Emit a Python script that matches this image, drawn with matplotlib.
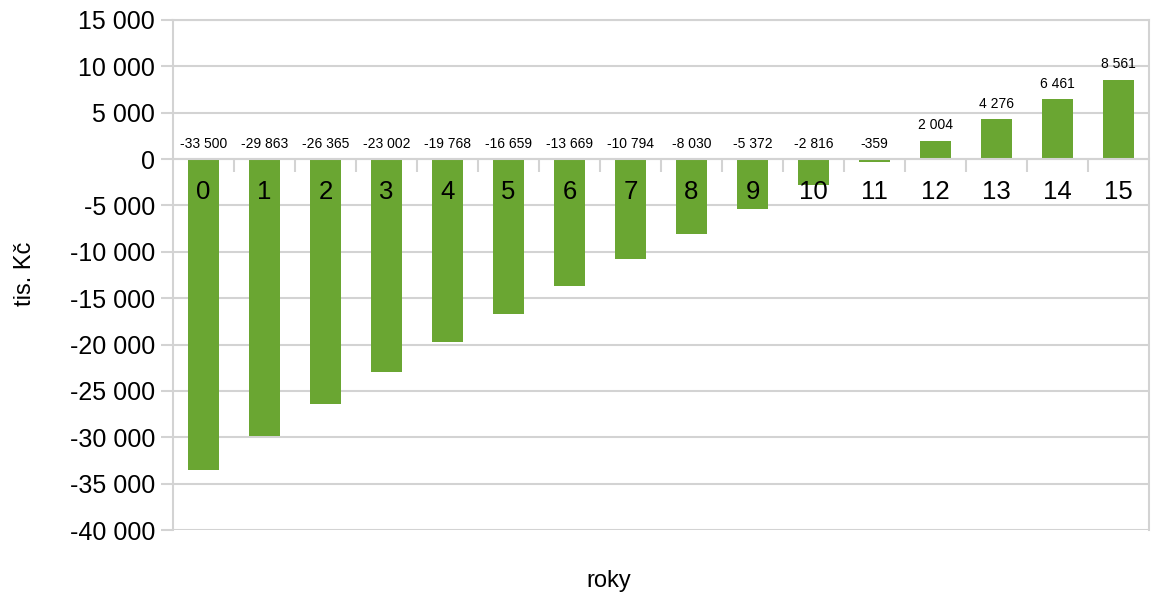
import matplotlib
matplotlib.use("Agg")
import matplotlib.pyplot as plt
from matplotlib.ticker import FixedLocator, FuncFormatter

years = list(range(16))
values = [-33500, -29863, -26365, -23002, -19768, -16659, -13669, -10794,
          -8030, -5372, -2816, -359, 2004, 4276, 6461, 8561]
y_ticks = list(range(-40000, 15001, 5000))

plt.rcParams['font.family'] = ['Liberation Sans', 'DejaVu Sans']

def fmt(v):
    s = f"{abs(int(v)):,}".replace(",", " ")
    return ("-" if v < 0 else "") + s

fig = plt.figure(figsize=(11.51, 5.93), dpi=100)
ax = fig.add_axes([0.1503, 0.1062, 0.8480, 0.8601])

bar_color = '#6aa632'
grid_color = '#d3d3d3'
ax.bar(years, values, width=0.5, color=bar_color, zorder=3)

ax.set_xlim(-0.5, 15.5)
ax.set_ylim(-40000, 15000)
ax.yaxis.set_major_locator(FixedLocator(y_ticks))
ax.yaxis.set_major_formatter(FuncFormatter(lambda v, p: fmt(v)))
ax.grid(axis='y', color=grid_color, linewidth=1.5, zorder=0)

ax.set_xticks(years)
ax.set_xticklabels([str(y) for y in years])
ax.set_xticks([y + 0.5 for y in years[:-1]], minor=True)
ax.tick_params(axis='x', which='major', length=0, pad=15, labelsize=18.5)
ax.tick_params(axis='x', which='minor', length=9, width=1.5, color=grid_color, direction='out')
ax.tick_params(axis='y', length=9, width=1.5, color=grid_color, labelsize=18, pad=4)
ax.xaxis.set_zorder(5)

ax.spines['bottom'].set_position(('data', 0))
for s in ['bottom', 'left', 'right', 'top']:
    ax.spines[s].set_color(grid_color)
    ax.spines[s].set_linewidth(1.5)
ax.spines['bottom'].set_zorder(4)

for x, v in zip(years, values):
    if v < 0:
        ax.annotate(fmt(v), (x, 0), xytext=(0, 6), textcoords='offset points',
                    ha='center', va='bottom', fontsize=10)
    else:
        ax.annotate(fmt(v), (x, v), xytext=(0, 6), textcoords='offset points',
                    ha='center', va='bottom', fontsize=10)

fig.text(25 / 1151, 1 - 274 / 593, 'tis. Kč', rotation=90, ha='center', va='center', fontsize=17)
fig.text(609 / 1151, 1 - 581 / 593, 'roky', ha='center', va='center', fontsize=17)

fig.savefig('out.png', dpi=100)
